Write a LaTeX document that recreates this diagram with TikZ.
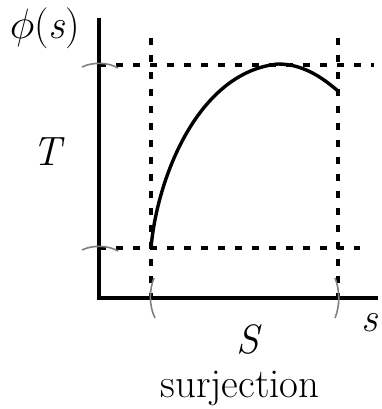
\documentclass[tikz,border=0pt]{standalone}
\begin{document}
\begin{tikzpicture}[x=1pt,y=-1pt,
  axis/.style={line width=3.4pt},
  guide/.style={line width=3.2pt,dash pattern=on 7pt off 10pt},
  curvel/.style={line width=3.4pt},
  tickmark/.style={line width=1.6pt,gray},
  lbl/.style={inner sep=0pt,anchor=base,font=\fontsize{41}{44}\selectfont}]
\useasboundingbox (0,0) rectangle (381,409);
% coordinates
\coordinate (O) at (99,298);
\coordinate (Ytop) at (99,18);
\coordinate (Xend) at (378,298);
\coordinate (a) at (151,248);
\coordinate (m) at (278,64);
\coordinate (b) at (338,91);
% guides
\draw[guide] (151,38) -- (151,298);
\draw[guide] (338,38) -- (338,298);
\draw[guide] (99,65) -- (374,65);
\draw[guide] (99,248) -- (360,248);
% axes
\draw[axis] (Ytop) -- (O) -- (Xend);
% ticks
\draw[tickmark] (82,67) .. controls (92,62) and (108,62) .. (118,68);
\draw[tickmark] (82,250) .. controls (92,245) and (108,245) .. (118,251);
\draw[tickmark] (154,278) .. controls (149,290) and (149,306) .. (155,318);
\draw[tickmark] (335,278) .. controls (340,290) and (340,306) .. (335,318);
% curve
\draw[curvel] (a) .. controls (157,178) and (198,72) .. (m) .. controls (305,64) and (325,80) .. (b);
% labels
\node[lbl] (phi) at (45,39) {\scalebox{1.7}{$\phi$}(\textit{s})};
\node[lbl] (T) at (49,165) {\textit{T}};
\node[lbl] (S) at (249,353) {\textit{S}};
\node[lbl] (s) at (370,331) {\textit{s}};
\node[lbl] (surj) at (240,397) {surjection};
\end{tikzpicture}
\end{document}
